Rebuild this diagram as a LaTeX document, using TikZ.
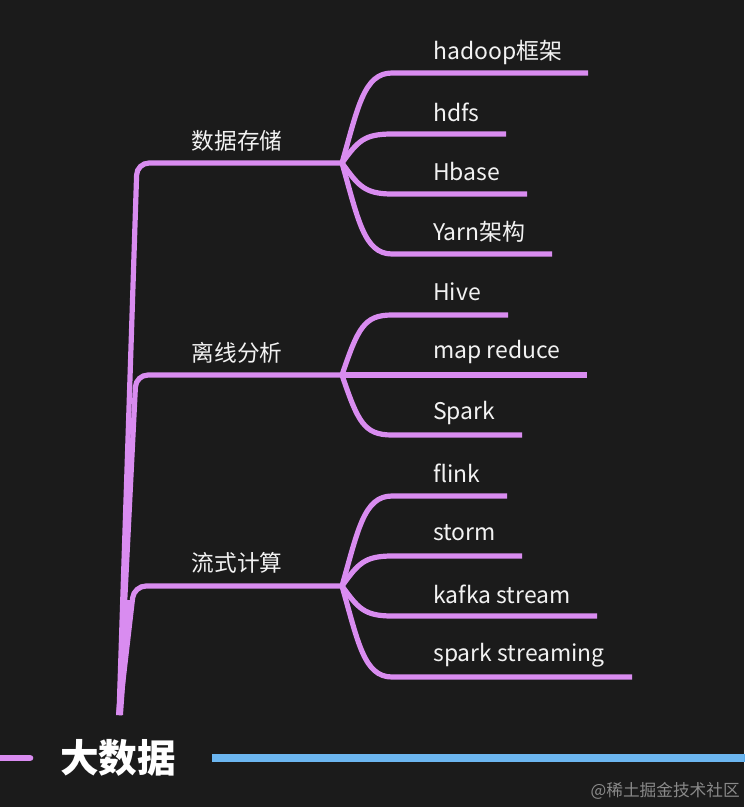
\documentclass[tikz,border=0pt]{standalone}
\usepackage{fontspec}
\setmainfont{Noto Sans CJK SC}
\newfontfamily\cjk{Noto Sans CJK SC}
\definecolor{bgdark}{HTML}{1B1B1B}
\definecolor{twigpink}{HTML}{D98CF0}
\definecolor{rootblue}{HTML}{6CB6F0}
\definecolor{leaftext}{HTML}{F2F2F2}
\definecolor{marktext}{HTML}{8A8A8A}

\begin{document}
\begin{tikzpicture}[%
      x=0.75pt, y=-0.75pt,
      twig/.style={draw=twigpink, line width=3.9pt},
      stem/.style={twig, rounded corners=9pt},
      leaf/.style={anchor=west, inner sep=0pt, text=leaftext, font=\cjk\fontsize{17.2}{20}\selectfont},
      topic/.style={inner sep=0pt, text=leaftext, font=\cjk\fontsize{17}{20}\selectfont},
      ]
      \fill [bgdark] (0,0) rectangle (744,807);
      \useasboundingbox (0,0) rectangle (744,807);

      % trunk and the three branches
      \coordinate (root) at (119,715);
      \coordinate (store) at (342,163);
      \coordinate (offline) at (342,375);
      \coordinate (stream) at (342,586);
      \draw [stem] (root) -- (137,163) -- (store);
      \draw [stem] (root) -- (136,375) -- (offline);
      \draw [stem] (root) -- (134,586) -- (stream);
      \fill [twigpink] (116,715) -- (123,715) -- (131,600) -- (127,600) -- cycle;

      \node [topic] (storetopic) at (237,141) {数据存储};
      \node [topic] (offlinetopic) at (237,353) {离线分析};
      \node [topic] (streamtopic) at (237,563) {流式计算};

      % 数据存储
      \coordinate (hadoopL) at (392,73);   \coordinate (hadoopR) at (588,73);
      \coordinate (hdfsL) at (392,134);    \coordinate (hdfsR) at (506,134);
      \coordinate (hbaseL) at (392,194);   \coordinate (hbaseR) at (527,194);
      \coordinate (yarnL) at (392,254);    \coordinate (yarnR) at (552,254);
      \draw [twig] (store) .. controls +(16,-56) and +(-28,0) .. (hadoopL) -- (hadoopR);
      \draw [twig] (store) .. controls +(16,-22) and +(-28,0) .. (hdfsL) -- (hdfsR);
      \draw [twig] (store) .. controls +(16,22) and +(-28,0) .. (hbaseL) -- (hbaseR);
      \draw [twig] (store) .. controls +(16,56) and +(-28,0) .. (yarnL) -- (yarnR);
      \node [leaf] (hadoop) at (433,52) {hadoop框架};
      \node [leaf] (hdfs) at (433,112) {hdfs};
      \node [leaf] (hbase) at (433,172) {Hbase};
      \node [leaf] (yarn) at (433,232) {Yarn架构};

      % 离线分析
      \coordinate (hiveL) at (392,315);    \coordinate (hiveR) at (508,315);
      \coordinate (mapredR) at (587,375);
      \coordinate (sparkL) at (392,435);   \coordinate (sparkR) at (522,435);
      \draw [twig] (offline) .. controls +(16,-47) and +(-28,0) .. (hiveL) -- (hiveR);
      \draw [twig] (offline) -- (mapredR);
      \draw [twig] (offline) .. controls +(16,47) and +(-28,0) .. (sparkL) -- (sparkR);
      \node [leaf] (hive) at (433,292) {Hive};
      \node [leaf] (mapred) at (433,352) {map reduce};
      \node [leaf] (spark) at (433,413) {Spark};

      % 流式计算
      \coordinate (flinkL) at (392,496);   \coordinate (flinkR) at (507,496);
      \coordinate (stormL) at (392,556);   \coordinate (stormR) at (522,556);
      \coordinate (kafkaL) at (392,616);   \coordinate (kafkaR) at (597,616);
      \coordinate (sparkstL) at (392,677); \coordinate (sparkstR) at (632,677);
      \draw [twig] (stream) .. controls +(16,-56) and +(-28,0) .. (flinkL) -- (flinkR);
      \draw [twig] (stream) .. controls +(16,-22) and +(-28,0) .. (stormL) -- (stormR);
      \draw [twig] (stream) .. controls +(16,22) and +(-28,0) .. (kafkaL) -- (kafkaR);
      \draw [twig] (stream) .. controls +(16,56) and +(-28,0) .. (sparkstL) -- (sparkstR);
      \node [leaf] (flink) at (433,473) {flink};
      \node [leaf] (storm) at (433,533) {storm};
      \node [leaf] (kafka) at (433,594) {kafka stream};
      \node [leaf] (sparkst) at (433,655) {spark streaming};

      % central topic
      \node [inner sep=0pt, text=white, font=\cjk\bfseries\fontsize{29}{32}\selectfont] (bigdata) at (118,758) {大数据};
      \coordinate (pinkend) at (30,758);
      \coordinate (blueend) at (212,758);
      \draw [draw=twigpink, line width=5pt, line cap=round] (-10,758) -- (pinkend);
      \draw [draw=rootblue, line width=5.5pt] (blueend) -- (750,758);

      \node [anchor=east, inner sep=0pt, text=marktext, font=\cjk\fontsize{12.5}{14}\selectfont] (mark) at (740,791) {@稀土掘金技术社区};
      \end{tikzpicture}
\end{document}
